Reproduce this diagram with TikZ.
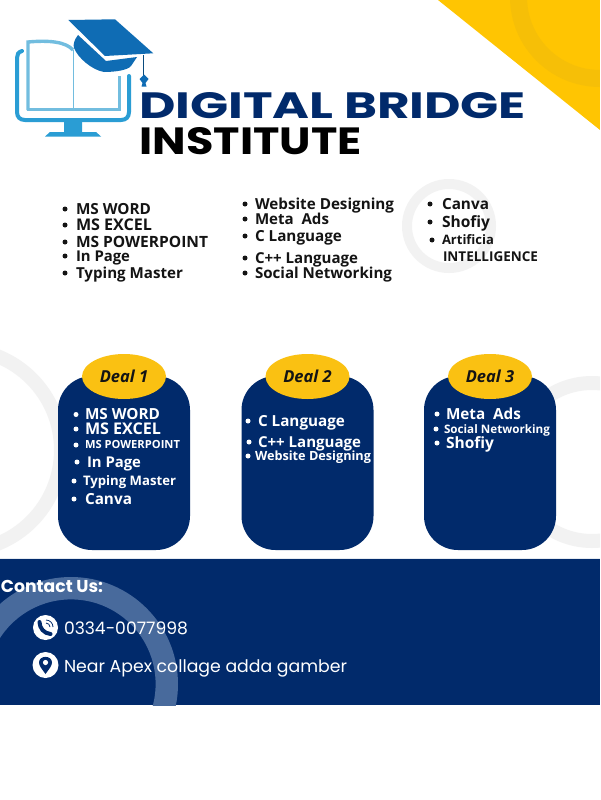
\documentclass[tikz,border=0pt]{standalone}
\usepackage{fontspec}
\usepackage{graphicx}
\setmainfont{Open Sans}
\newfontfamily\pop{Poppins}
\usetikzlibrary{shapes.geometric}
\definecolor{navy}{HTML}{012A6B}
\definecolor{gold}{HTML}{FFC502}
\definecolor{goldd}{HTML}{F6BF07}
\definecolor{dealgold}{HTML}{FAC112}
\definecolor{ringg}{HTML}{F2F2F2}
\definecolor{ringb}{HTML}{486A9C}
\definecolor{capblue}{HTML}{0F6CB4}
\definecolor{monblue}{HTML}{2A9DD4}
\definecolor{bookblue}{HTML}{72BDDF}
\definecolor{ink}{HTML}{141414}
\tikzset{
  lab/.style={anchor=west,inner sep=0pt,outer sep=0pt},
  dealbox/.style={fill=navy,rounded corners=34pt,minimum width=132pt,minimum height=174pt,inner sep=0pt},
  dealoval/.style={ellipse,fill=dealgold,minimum width=84pt,minimum height=45pt,inner sep=0pt,text=ink,font=\bfseries\itshape\fontsize{16.5}{16.5}\selectfont},
  ringg/.style={fill=ringg,even odd rule},
  blt/.style={circle,inner sep=0pt,minimum size=5pt}
}
% name, bullet x, text x, y, width, text, colour
\newcommand\itm[7]{%
  \node[blt,fill=#7] (b#1) at (#2,#4) {};
  \node[lab,text=#7] (t#1) at (#3,#4) {\resizebox{#5pt}{!}{\raisebox{0pt}[0.714em][0pt]{\bfseries #6}}};%
}
\begin{document}
\begin{tikzpicture}[x=1pt,y=-1pt]
\useasboundingbox (0,0) rectangle (600,800);
\path[clip] (0,0) rectangle (600,800);
\fill[white] (0,0) rectangle (600,800);
% top-right corner
\begin{scope}
  \path[clip] (438,0) -- (600,0) -- (600,130) -- cycle;
  \fill[gold] (438,0) rectangle (600,130);
  \fill[goldd,even odd rule] (600,-3) circle[radius=90pt] (600,-3) circle[radius=73pt];
\end{scope}
% pale rings
\fill[ringg] (449,226) circle[radius=47pt] (449,226) circle[radius=37pt];
\fill[ringg] (-40,450) circle[radius=108pt] (-40,450) circle[radius=94pt];
\fill[ringg] (592,462) circle[radius=86pt] (592,462) circle[radius=72pt];
% logo
\draw[bookblue,line width=3.4pt] (28,110) -- (28,42) .. controls (50,40) and (66,42) .. (73,50);
\draw[bookblue,line width=3pt] (27,109) -- (119,109) -- (119,76);
\draw[bookblue,line width=0.9pt] (73,50) -- (73,108);
\draw[monblue,line width=4pt,line cap=round] (22,51) .. controls (18,52) and (17,55) .. (17,58) -- (17,112) .. controls (17,117) and (20,120) .. (25,120) -- (121,120) .. controls (126,120) and (129,117) .. (129,112) -- (129,76);
\fill[monblue] (64,120) -- (82,120) -- (82,132) -- (96,132) -- (101,136.5) -- (45,136.5) -- (50,132) -- (64,132) -- cycle;
\fill[capblue] (78,35) .. controls (74,40) and (73,45) .. (74,48) .. controls (78,58) and (92,70) .. (104,72) .. controls (116,72) and (128,70) .. (131,66) -- (137,57) -- (106,61) -- cycle;
\fill[capblue] (68.3,20) -- (115,19.3) -- (153.3,53.3) -- (105,56) -- cycle;
\draw[capblue!70!black,line width=0.8pt] (143.5,55) -- (143.5,76);
\fill[capblue] (144,74.5) -- (148.5,79) -- (145.5,83) -- (146.5,86.5) -- (141.5,86.5) -- (142.5,83) -- (139.5,79) -- cycle;
% title
\node[lab,text=navy] (title1) at (139,105.5) {\resizebox{387pt}{26pt}{\pop\bfseries DIGITAL BRIDGE}};
\node[lab,text=black] (title2) at (139.5,141) {\resizebox{222pt}{27pt}{\pop\bfseries INSTITUTE}};
% top lists
\itm{a1}{65}{76}{209}{75}{MS WORD}{ink}
\itm{a2}{65}{76}{225}{76}{MS EXCEL}{ink}
\itm{a3}{65}{76}{242}{132}{MS POWERPOINT}{ink}
\itm{a4}{65}{76}{256}{54}{In Page}{ink}
\itm{a5}{65}{76}{273}{107}{Typing Master}{ink}
\itm{c1}{245}{255}{204}{139}{Website Designing}{ink}
\itm{c2}{245}{255}{219}{74}{Meta\ \ Ads}{ink}
\itm{c3}{245}{255}{236}{87}{C Language}{ink}
\itm{c4}{245}{255}{258}{103}{C++ Language}{ink}
\itm{c5}{245}{255}{273}{137}{Social Networking}{ink}
\itm{e1}{430}{442}{204}{47}{Canva}{ink}
\itm{e2}{430}{442}{222}{48}{Shofiy}{ink}
\itm{e3}{432}{442}{240}{52}{Artificia}{ink}
\node[lab,text=ink] (e4) at (443,257) {\resizebox{95pt}{!}{\raisebox{0pt}[0.714em][0pt]{\bfseries INTELLIGENCE}}};
% deal cards
\node[dealbox] (box1) at (124,463) {};
\node[dealbox] (box2) at (307.5,463) {};
\node[dealbox] (box3) at (490,463) {};
\node[dealoval] (oval1) at (124,376.5) {Deal 1};
\node[dealoval] (oval2) at (307.5,376.5) {Deal 2};
\node[dealoval] (oval3) at (490,376.5) {Deal 3};
\itm{f1}{76}{85}{414.5}{75}{MS WORD}{white}
\itm{f2}{76}{85}{429}{76}{MS EXCEL}{white}
\itm{f3}{76}{85}{445}{95}{MS POWERPOINT}{white}
\itm{f4}{77}{87}{462}{54}{In Page}{white}
\itm{f5}{74}{83}{481}{93}{Typing Master}{white}
\itm{f6}{74}{85}{499}{47}{Canva}{white}
\itm{g1}{248}{258}{421}{87}{C Language}{white}
\itm{g2}{249}{258}{442}{103}{C++ Language}{white}
\itm{g3}{248}{255}{456}{116}{Website Designing}{white}
\itm{h1}{437}{446}{414}{75}{Meta\ \ Ads}{white}
\itm{h2}{436}{444}{429}{106}{Social Networking}{white}
\itm{h3}{437}{446}{443}{48}{Shofiy}{white}
% contact band
\fill[navy!10] (0,557.5) rectangle (600,559);
\fill[navy] (0,559) rectangle (600,705);
\begin{scope}
  \path[clip] (0,559) rectangle (600,705);
  \fill[ringb,even odd rule] (71,684) circle[radius=107pt] (71,684) circle[radius=84.6pt];
\end{scope}
\node[lab,text=white] (contact) at (1,586) {\resizebox{102pt}{!}{\raisebox{0pt}[0.7em][0pt]{\pop\bfseries Contact Us:}}};
\node[circle,fill=white,minimum size=25pt,inner sep=0pt] (phone) at (45.5,627.5) {};
\draw[navy,line width=4pt,line cap=round] (39.5,622) .. controls (39.5,628) and (44,633.5) .. (50.5,634);
\draw[navy,line width=0.8pt] (46,623) arc[start angle=90,end angle=0,radius=4pt];
\draw[navy,line width=0.8pt] (46,620) arc[start angle=90,end angle=0,radius=7pt];
\node[lab,text=white] (phonetext) at (64,628) {\resizebox{124pt}{!}{\raisebox{0pt}[0.7em][0pt]{\pop 0334-0077998}}};
\node[circle,fill=white,minimum size=26pt,inner sep=0pt] (pin) at (45.5,665) {};
\fill[navy] (45.5,674) .. controls (42,669) and (39,666) .. (39,662.5) .. controls (39,655) and (52,655) .. (52,662.5) .. controls (52,666) and (49,669) .. (45.5,674) -- cycle;
\fill[white] (45.5,662.5) circle[radius=2.6pt];
\node[lab,text=white] (addr) at (64,666) {\resizebox{283pt}{!}{\raisebox{0pt}[0.7em][0pt]{\pop Near Apex collage adda gamber}}};
\end{tikzpicture}
\end{document}
